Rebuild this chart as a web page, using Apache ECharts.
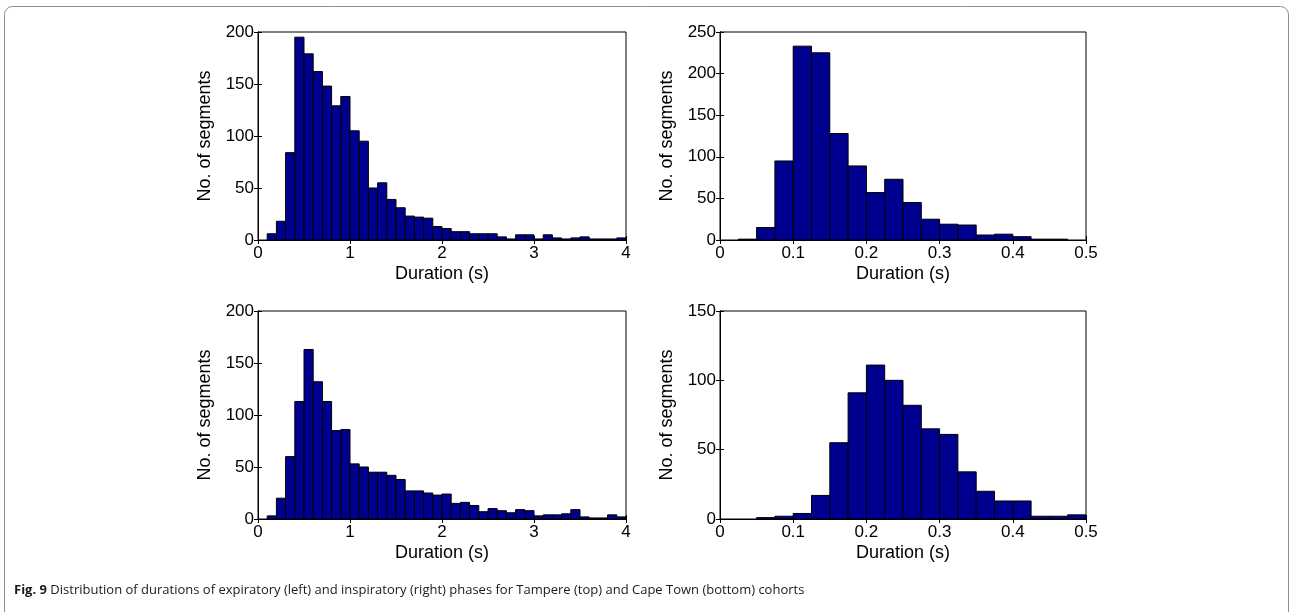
<!DOCTYPE html>
<html>
<head>
<meta charset="utf-8">
<script src="https://cdn.jsdelivr.net/npm/echarts@6/dist/echarts.min.js"></script>
<style>
html,body{margin:0;padding:0;background:#fff;}
#chart{width:1292px;height:612px;}
</style>
</head>
<body>
<div id="chart"></div>
<script>
// Tampere expiratory durations (bins of 0.1 s from 0 to 4 s)
const tampereExpCounts = [0,6,18,84,195,179,162,148,129,138,105,95,50,55,39,31,23,22,21,13,
                          11,8,8,6,6,6,3,1,5,5,1,5,2,1,2,3,1,1,1,2];
// Tampere inspiratory durations (bins of 0.025 s from 0 to 0.5 s)
const tampereInsCounts = [0,1,15,95,233,225,128,89,57,73,45,25,19,18,6,7,4,1,1,0];
// Cape Town expiratory durations (bins of 0.1 s)
const capeExpCounts = [0,3,20,60,113,163,132,113,85,86,53,50,45,45,42,38,27,27,25,23,
                       24,15,16,13,7,10,8,6,9,8,3,4,4,5,9,2,1,1,4,2];
// Cape Town inspiratory durations (bins of 0.025 s)
const capeInsCounts = [0,0,1,2,4,17,55,91,111,100,82,65,61,34,20,13,13,2,2,3];

const expBinWidth = 0.1;
const insBinWidth = 0.025;

const expXTicks = [0,1,2,3,4];
const insXTicks = [0,0.1,0.2,0.3,0.4,0.5];
const yTicksTampereExp = [0,50,100,150,200];
const yTicksTampereIns = [0,50,100,150,200,250];
const yTicksCapeExp = [0,50,100,150,200];
const yTicksCapeIns = [0,50,100,150];

const xName = 'Duration (s)';
const yName = 'No. of segments';

function bins(counts, w) {
  return counts.map((c, i) => [i * w, (i + 1) * w, c]);
}

const FONT = 'Liberation Sans';
const panels = [
  {grid:{left:258, top:32, width:368, height:208}, counts:tampereExpCounts, w:expBinWidth, xt:expXTicks, yt:yTicksTampereExp},
  {grid:{left:720, top:32, width:366, height:208}, counts:tampereInsCounts, w:insBinWidth, xt:insXTicks, yt:yTicksTampereIns},
  {grid:{left:258, top:311, width:368, height:208}, counts:capeExpCounts, w:expBinWidth, xt:expXTicks, yt:yTicksCapeExp},
  {grid:{left:720, top:311, width:366, height:208}, counts:capeInsCounts, w:insBinWidth, xt:insXTicks, yt:yTicksCapeIns}
];

const grid = [], xAxis = [], yAxis = [], series = [];
const lineStyle = {color:'#000', width:1};
panels.forEach((p, i) => {
  grid.push(Object.assign({show:true, borderColor:'#000', borderWidth:1, backgroundColor:'#fff'}, p.grid));
  const xMin = p.xt[0], xMax = p.xt[p.xt.length-1], xInt = p.xt[1]-p.xt[0];
  const yMin = p.yt[0], yMax = p.yt[p.yt.length-1], yInt = p.yt[1]-p.yt[0];
  xAxis.push({
    type:'value', gridIndex:i, min:xMin, max:xMax, interval:xInt, position:'bottom',
    name:xName, nameLocation:'middle', nameGap:25,
    nameTextStyle:{fontFamily:FONT, fontSize:18, color:'#000'},
    axisLine:{show:true, lineStyle}, axisTick:{show:true, inside:true, length:4, lineStyle},
    axisLabel:{fontFamily:FONT, fontSize:17, color:'#000', margin:5},
    splitLine:{show:false}
  });
  xAxis.push({
    type:'value', gridIndex:i, min:xMin, max:xMax, interval:xInt, position:'top',
    axisLine:{show:true, lineStyle}, axisTick:{show:true, inside:true, length:4, lineStyle},
    axisLabel:{show:false}, splitLine:{show:false}
  });
  yAxis.push({
    type:'value', gridIndex:i, min:yMin, max:yMax, interval:yInt, position:'left',
    name:yName, nameLocation:'middle', nameGap:44,
    nameTextStyle:{fontFamily:FONT, fontSize:18, color:'#000'},
    axisLine:{show:true, lineStyle}, axisTick:{show:true, inside:true, length:4, lineStyle},
    axisLabel:{fontFamily:FONT, fontSize:17, color:'#000', margin:4},
    splitLine:{show:false}
  });
  yAxis.push({
    type:'value', gridIndex:i, min:yMin, max:yMax, interval:yInt, position:'right',
    axisLine:{show:true, lineStyle}, axisTick:{show:true, inside:true, length:4, lineStyle},
    axisLabel:{show:false}, splitLine:{show:false}
  });
  series.push({
    type:'custom', xAxisIndex:i*2, yAxisIndex:i*2, clip:true,
    data:bins(p.counts, p.w),
    encode:{x:[0,1], y:2},
    renderItem:function(params, api){
      const x0 = api.value(0), x1 = api.value(1), c = api.value(2);
      if (c <= 0) return null;
      const a = api.coord([x0, 0]);
      const b = api.coord([x1, c]);
      return {type:'rect', shape:{x:a[0], y:b[1], width:b[0]-a[0], height:a[1]-b[1]},
              style:{fill:'#00008F', stroke:'#000', lineWidth:1}};
    }
  });
});

const chart = echarts.init(document.getElementById('chart'), null, {renderer:'canvas'});
chart.setOption({
  backgroundColor:'#fff',
  animation:false,
  grid, xAxis, yAxis, series,
  graphic:[
    {type:'rect', shape:{x:4.5, y:6.5, width:1284, height:700, r:8},
     style:{fill:'none', stroke:'#8c8c8c', lineWidth:1}, z:-10},
    {type:'text', left:14, top:584,
     style:{
       text:'{b|Fig. 9} Distribution of durations of expiratory (left) and inspiratory (right) phases for Tampere (top) and Cape Town (bottom) cohorts',
       fontFamily:'Open Sans', fontSize:13, fill:'#1a1a1a',
       rich:{b:{fontFamily:'Open Sans', fontSize:13, fontWeight:'bold', fill:'#1a1a1a'}}
     }}
  ]
});
</script>
</body>
</html>
